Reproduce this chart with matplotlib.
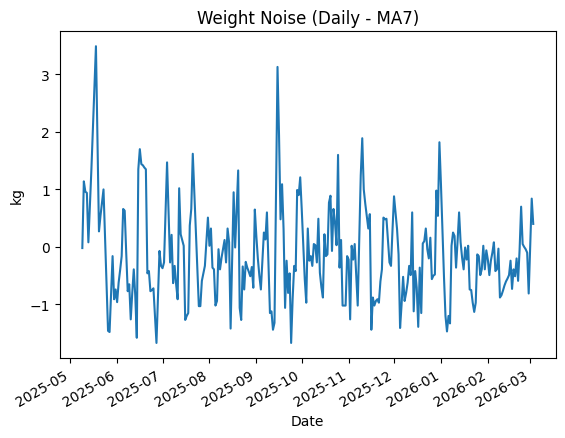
import pandas as pd
import matplotlib
matplotlib.use("Agg")
import matplotlib.pyplot as plt

# Daily weight noise (kg, MA7 residual)
start_date = "2025-05-09"
noise = [
    -0.02, 1.14, 0.96, 0.94, 0.08, 0.70, 1.35, 2.05, 2.80, 3.49,
    1.90, 0.27, 0.54, 0.77, 1.00, 0.18, -0.64, -1.46, -1.48, -0.80,
    -0.16, -0.91, -0.74, -0.96, -0.62, -0.40, -0.16, 0.66, 0.63, -0.10,
    -0.77, -0.65, -1.26, -0.80, -0.39, -0.85, -1.58, 1.35, 1.70, 1.44,
    1.42, 1.38, 1.35, -0.46, -0.42, -0.77, -0.75, -0.72, -1.20, -1.67,
    -0.87, -0.07, -0.33, -0.37, -0.27, 0.60, 1.47, 0.60, -0.27, 0.21,
    -0.63, -0.33, -0.65, -0.91, 1.02, 0.22, 0.12, 0.02, -1.27, -1.20,
    -1.15, 0.37, 0.66, 1.62, 0.95, 0.30, -0.40, -1.03, -1.03, -0.59,
    -0.46, -0.33, 0.10, 0.51, 0.02, 0.32, -0.36, -0.39, -1.02, -0.94,
    -0.04, -0.39, -0.19, -0.04, 0.12, -0.27, 0.32, 0.08, -1.42, -0.20,
    0.95, -0.01, 0.65, 1.33, -1.06, -1.27, -0.34, -0.74, -0.26, -0.36,
    -0.43, -0.51, -0.35, -0.71, 0.65, 0.19, -0.20, -0.50, -0.74, -0.25,
    0.25, 0.13, 0.60, -0.30, -1.15, -1.12, -1.44, -1.32, 0.90, 3.13,
    1.94, 0.48, 1.09, 0.31, -1.06, -0.24, -0.80, -0.46, -1.67, -0.90,
    -0.33, -0.42, 0.99, 0.90, 1.21, 0.66, 0.05, -0.56, -0.97, 0.32,
    -0.24, -0.16, -0.33, 0.05, 0.03, -0.27, 0.49, -0.45, -0.70, -0.88,
    0.22, -0.16, -0.13, 0.77, 0.89, -0.07, 0.66, 0.42, 0.03, 1.60,
    -0.36, 0.12, -1.02, -1.02, -1.02, -0.16, -0.22, -1.26, 0.02, -0.22,
    0.05, -0.50, -1.02, 0.10, 1.24, 1.89, 1.00, 0.75, 0.54, 0.32,
    0.57, -1.44, -0.88, -1.02, -0.94, -0.91, -0.97, -0.60, -0.39, 0.51,
    0.48, 0.49, 0.10, -0.27, -0.33, 0.30, 0.88, 0.60, 0.31, -0.13,
    -1.41, -1.00, -0.52, -0.94, -0.80, -0.62, -0.33, -0.49, 0.60, -1.12,
    -0.42, -0.71, -1.39, -0.36, -1.15, 0.06, 0.10, 0.32, -0.04, -0.20,
    0.16, -0.56, -0.50, -0.48, 0.98, 0.54, 1.82, 1.10, 0.31, -0.51,
    -1.20, -1.47, -1.20, -1.33, 0.02, 0.25, 0.19, -0.36, 0.10, 0.60,
    0.08, -0.19, -0.39, -0.01, -0.22, 0.02, -0.74, -0.75, -0.97, -1.13,
    -0.97, -0.13, -0.16, -0.49, -0.39, 0.02, -0.39, -0.06, -0.22, -0.49,
    -0.24, -0.10, 0.08, -0.42, -0.39, -0.03, -0.88, -0.84, -0.76, -0.67,
    -0.60, -0.55, -0.49, -0.24, -0.73, -0.39, -0.51, -0.20, -0.59, -0.04,
    0.70, 0.05, 0.00, -0.04, -0.10, -0.81, 0.00, 0.84, 0.40,
]
dates = pd.date_range(start_date, periods=len(noise), freq="D")

fig, ax = plt.subplots(figsize=(6.4, 4.8), dpi=100)
ax.plot(dates, noise)
ax.set_title("Weight Noise (Daily - MA7)")
ax.set_xlabel("Date")
ax.set_ylabel("kg")
fig.autofmt_xdate()
fig.savefig("out.png", bbox_inches="tight")
